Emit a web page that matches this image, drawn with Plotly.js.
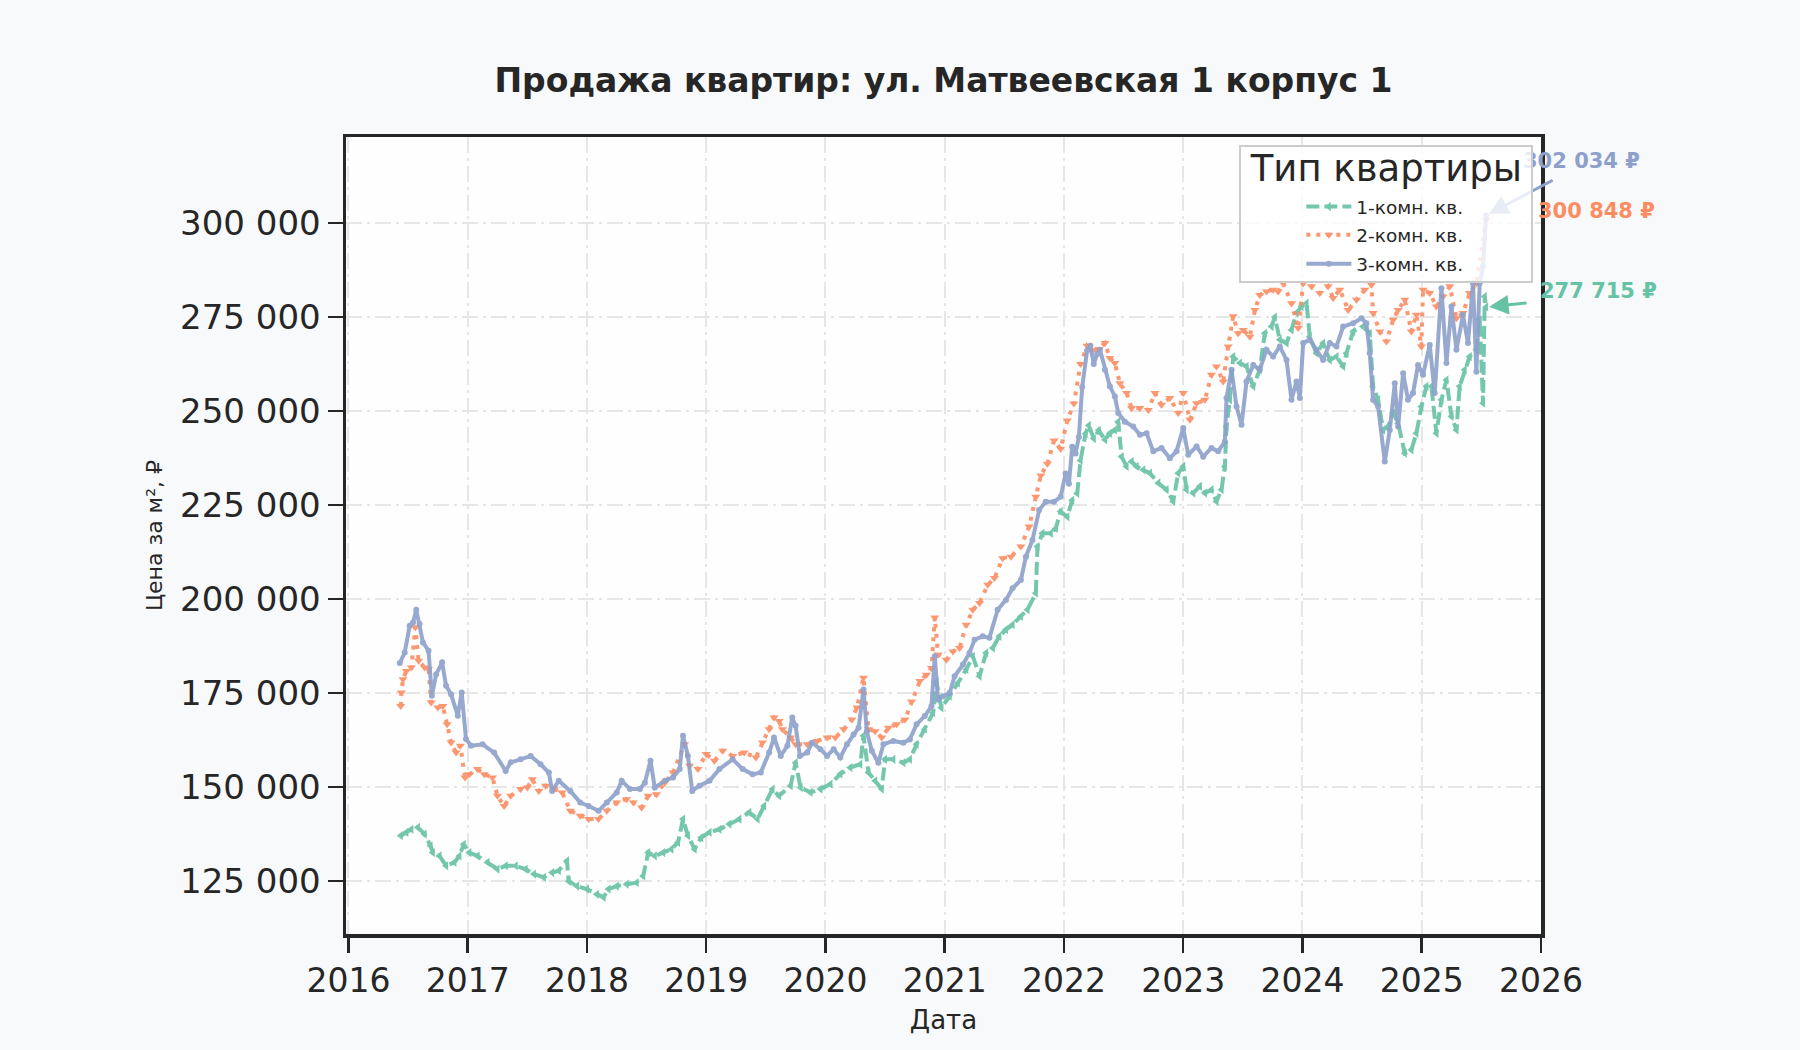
<!DOCTYPE html>
<html>
<head>
<meta charset="utf-8">
<script src="https://cdn.plot.ly/plotly-3.0.1.min.js"></script>
<style>
  body { margin: 0; background: #f8f9fb; }
  #chart { width: 1800px; height: 1050px; }
</style>
</head>
<body>
<div id="chart"></div>
<script>
// 1-комн. кв.
let years1 = [2016.439, 2016.486, 2016.528, 2016.583, 2016.639, 2016.689, 2016.708, 2016.764, 2016.819, 2016.889,
  2016.931, 2016.967, 2017.014, 2017.083, 2017.167, 2017.25, 2017.319, 2017.403, 2017.486, 2017.556,
  2017.639, 2017.708, 2017.764, 2017.833, 2017.847, 2017.917, 2018.0, 2018.083, 2018.139, 2018.181,
  2018.25, 2018.333, 2018.417, 2018.472, 2018.514, 2018.569, 2018.639, 2018.708, 2018.764, 2018.806,
  2018.847, 2018.903, 2018.958, 2019.028, 2019.111, 2019.194, 2019.278, 2019.361, 2019.431, 2019.486,
  2019.556, 2019.611, 2019.708, 2019.75, 2019.792, 2019.875, 2019.958, 2020.042, 2020.125, 2020.208,
  2020.292, 2020.319, 2020.361, 2020.417, 2020.472, 2020.5, 2020.569, 2020.653, 2020.708, 2020.764,
  2020.833, 2020.903, 2020.931, 2020.972, 2021.042, 2021.111, 2021.181, 2021.236, 2021.292, 2021.347,
  2021.403, 2021.458, 2021.514, 2021.569, 2021.639, 2021.694, 2021.764, 2021.778, 2021.819, 2021.889,
  2021.931, 2021.972, 2022.028, 2022.069, 2022.111, 2022.139, 2022.181, 2022.208, 2022.25, 2022.292,
  2022.344, 2022.385, 2022.427, 2022.455, 2022.483, 2022.525, 2022.567, 2022.609, 2022.665, 2022.721,
  2022.791, 2022.86, 2022.916, 2022.958, 2023.0, 2023.028, 2023.084, 2023.14, 2023.182, 2023.237,
  2023.279, 2023.321, 2023.349, 2023.363, 2023.391, 2023.419, 2023.475, 2023.531, 2023.587, 2023.642,
  2023.684, 2023.74, 2023.768, 2023.81, 2023.866, 2023.908, 2023.95, 2023.992, 2024.034, 2024.061,
  2024.117, 2024.173, 2024.229, 2024.285, 2024.341, 2024.369, 2024.425, 2024.508, 2024.564, 2024.592,
  2024.634, 2024.676, 2024.718, 2024.76, 2024.802, 2024.858, 2024.913, 2024.955, 2024.997, 2025.039,
  2025.081, 2025.123, 2025.165, 2025.207, 2025.249, 2025.291, 2025.318, 2025.36, 2025.402, 2025.458,
  2025.486, 2025.514, 2025.528, 2025.54];
let price1 = [137100, 138000, 138800, 139300, 137500, 134400, 132600, 131700, 129100, 130000,
  131700, 134800, 132600, 131700, 130000, 128200, 129100, 129100, 128200, 126900,
  126000, 127300, 127800, 130400, 125000, 123700, 122900, 121500, 120700, 122900,
  123700, 124200, 124600, 126400, 132600, 131700, 132600, 133500, 135300, 141500,
  137100, 133500, 136600, 138000, 138800, 140200, 141500, 143300, 141500, 145000,
  149500, 147700, 150400, 156500, 149900, 148600, 149500, 150800, 153500, 155200,
  156100, 163700, 153900, 151700, 149500, 157400, 157400, 156500, 157400, 161400,
  165400, 169800, 178000, 171100, 174200, 177700, 181300, 184800, 179500, 185700,
  187000, 190100, 191900, 193200, 195400, 197200, 201600, 214000, 217500, 217500,
  218800, 223300, 221900, 226300, 228100, 236900, 244000, 246200, 242700, 244900,
  242400, 244100, 245000, 247200, 237900, 235300, 236600, 235300, 234400, 233500,
  230900, 229100, 226000, 233500, 235300, 229100, 228200, 230000, 228200, 229100,
  226000, 229100, 235300, 245900, 253000, 264500, 262800, 261900, 256600, 261000,
  270700, 272500, 275000, 269000, 268100, 271600, 276100, 277800, 278700, 269800,
  265400, 268100, 263600, 264500, 261900, 265400, 271200, 272500, 270700, 256600,
  253000, 245000, 245900, 249500, 246800, 238800, 239700, 244100, 251200, 256600,
  256600, 244100, 253000, 258300, 248600, 245000, 256600, 261000, 264500, 266300,
  274300, 252100, 280500, 277715];

// 2-комн. кв.
let years2 = [2016.439, 2016.444, 2016.458, 2016.486, 2016.528, 2016.561, 2016.589, 2016.639, 2016.672, 2016.694,
  2016.75, 2016.792, 2016.828, 2016.861, 2016.903, 2016.939, 2016.978, 2017.014, 2017.083, 2017.139,
  2017.208, 2017.25, 2017.306, 2017.361, 2017.444, 2017.5, 2017.542, 2017.597, 2017.653, 2017.722,
  2017.792, 2017.861, 2017.944, 2018.014, 2018.097, 2018.167, 2018.25, 2018.333, 2018.389, 2018.458,
  2018.514, 2018.583, 2018.653, 2018.722, 2018.819, 2018.861, 2018.931, 2019.0, 2019.069, 2019.139,
  2019.222, 2019.319, 2019.417, 2019.472, 2019.528, 2019.569, 2019.611, 2019.639, 2019.708, 2019.75,
  2019.847, 2019.931, 2020.014, 2020.083, 2020.153, 2020.222, 2020.264, 2020.319, 2020.361, 2020.417,
  2020.472, 2020.528, 2020.597, 2020.667, 2020.722, 2020.792, 2020.847, 2020.889, 2020.917, 2020.944,
  2021.014, 2021.069, 2021.125, 2021.181, 2021.236, 2021.292, 2021.361, 2021.417, 2021.486, 2021.556,
  2021.639, 2021.708, 2021.764, 2021.806, 2021.861, 2021.917, 2021.972, 2022.028, 2022.083, 2022.139,
  2022.194, 2022.236, 2022.292, 2022.344, 2022.385, 2022.427, 2022.469, 2022.525, 2022.567, 2022.637,
  2022.707, 2022.763, 2022.818, 2022.888, 2022.958, 2023.0, 2023.056, 2023.112, 2023.182, 2023.237,
  2023.279, 2023.335, 2023.377, 2023.419, 2023.461, 2023.503, 2023.559, 2023.601, 2023.642, 2023.698,
  2023.754, 2023.796, 2023.838, 2023.908, 2023.964, 2024.006, 2024.075, 2024.145, 2024.215, 2024.257,
  2024.313, 2024.383, 2024.453, 2024.522, 2024.578, 2024.592, 2024.648, 2024.704, 2024.76, 2024.802,
  2024.858, 2024.913, 2024.955, 2024.997, 2025.011, 2025.067, 2025.123, 2025.179, 2025.235, 2025.291,
  2025.346, 2025.402, 2025.458, 2025.54];
let price2 = [171600, 175200, 178700, 180900, 181800, 192500, 183600, 181800, 181400, 172500,
  171200, 171600, 166700, 161900, 159200, 161000, 152600, 153400, 154800, 153400,
  152600, 147700, 145000, 147700, 149500, 149900, 152100, 149000, 150400, 149500,
  148600, 143700, 142400, 141500, 141500, 143700, 145900, 146800, 145900, 144600,
  147700, 148100, 151200, 153900, 161400, 155700, 154800, 158800, 157000, 159700,
  158300, 159200, 157900, 161900, 165400, 168500, 167600, 165400, 163200, 161400,
  161400, 162300, 163200, 163200, 165400, 168000, 171200, 179100, 165400, 164900,
  163200, 165800, 166700, 168000, 172800, 178200, 179900, 181700, 195100, 185300,
  183900, 186100, 187000, 193200, 197200, 199000, 203800, 205600, 210900, 211300,
  214000, 219300, 227200, 232900, 236000, 242200, 240000, 247500, 252000, 262500,
  267400, 266100, 266500, 268100, 264100, 262800, 257400, 254800, 250800, 250800,
  250300, 254800, 251700, 253500, 249500, 254800, 247700, 252100, 253000, 259700,
  261900, 257900, 267200, 275200, 270700, 271600, 269800, 276900, 280900, 281800,
  282300, 281800, 284000, 278700, 272100, 284000, 283200, 281400, 283200, 280100,
  282300, 276900, 279600, 282300, 283600, 276100, 271200, 268500, 274300, 276900,
  279600, 271200, 275600, 267200, 282300, 281400, 277800, 280500, 283200, 274700,
  276100, 281400, 284000, 300848];

// 3-комн. кв.
let years3 = [2016.431, 2016.472, 2016.514, 2016.542, 2016.569, 2016.597, 2016.625, 2016.672, 2016.7, 2016.736,
  2016.786, 2016.819, 2016.861, 2016.917, 2016.95, 2016.986, 2017.028, 2017.125, 2017.222, 2017.319,
  2017.361, 2017.444, 2017.528, 2017.611, 2017.681, 2017.708, 2017.764, 2017.861, 2017.944, 2018.014,
  2018.097, 2018.167, 2018.25, 2018.292, 2018.361, 2018.444, 2018.486, 2018.533, 2018.569, 2018.653,
  2018.722, 2018.778, 2018.806, 2018.847, 2018.883, 2018.944, 2019.028, 2019.111, 2019.222, 2019.306,
  2019.389, 2019.458, 2019.528, 2019.569, 2019.625, 2019.681, 2019.722, 2019.75, 2019.786, 2019.847,
  2019.889, 2019.958, 2020.014, 2020.069, 2020.125, 2020.181, 2020.236, 2020.278, 2020.319, 2020.347,
  2020.389, 2020.444, 2020.486, 2020.569, 2020.653, 2020.708, 2020.764, 2020.833, 2020.889, 2020.917,
  2020.944, 2020.986, 2021.042, 2021.083, 2021.153, 2021.208, 2021.25, 2021.319, 2021.375, 2021.444,
  2021.514, 2021.569, 2021.639, 2021.681, 2021.736, 2021.792, 2021.847, 2021.917, 2021.972, 2022.014,
  2022.042, 2022.069, 2022.097, 2022.125, 2022.153, 2022.194, 2022.222, 2022.25, 2022.278, 2022.302,
  2022.344, 2022.385, 2022.427, 2022.455, 2022.511, 2022.581, 2022.637, 2022.693, 2022.749, 2022.818,
  2022.888, 2022.944, 2023.0, 2023.042, 2023.112, 2023.168, 2023.237, 2023.293, 2023.349, 2023.363,
  2023.405, 2023.447, 2023.489, 2023.531, 2023.587, 2023.642, 2023.698, 2023.754, 2023.81, 2023.866,
  2023.908, 2023.95, 2023.978, 2024.006, 2024.061, 2024.117, 2024.173, 2024.229, 2024.285, 2024.341,
  2024.425, 2024.494, 2024.536, 2024.564, 2024.592, 2024.634, 2024.69, 2024.732, 2024.774, 2024.802,
  2024.844, 2024.885, 2024.927, 2024.969, 2025.011, 2025.067, 2025.109, 2025.165, 2025.207, 2025.249,
  2025.291, 2025.346, 2025.388, 2025.43, 2025.458, 2025.486, 2025.514, 2025.54];
let price3 = [183000, 185800, 192900, 193800, 197200, 193400, 188500, 186300, 174300, 180000,
  183200, 177000, 174700, 169000, 175200, 162800, 161000, 161400, 159200, 154300,
  156600, 157400, 158300, 156100, 153900, 149000, 151700, 149000, 145900, 145000,
  143700, 145900, 148600, 151700, 149500, 149500, 151200, 157000, 149900, 151700,
  152600, 154800, 163700, 158300, 149000, 150400, 151700, 154800, 157400, 154800,
  153400, 153900, 159200, 163200, 158300, 161000, 168500, 166300, 158300, 159200,
  161800, 160100, 158300, 160100, 157900, 161400, 164000, 165800, 176000, 164800,
  159700, 156500, 161400, 162300, 161800, 162700, 166700, 168900, 171500, 184800,
  173300, 174200, 175100, 179500, 182600, 185700, 189200, 190100, 189700, 197200,
  199800, 202900, 205100, 211300, 215700, 223700, 225900, 225900, 227200, 233400,
  230700, 240500, 238700, 243100, 256400, 266100, 267400, 262500, 265200, 266300,
  261000, 256600, 253900, 249500, 247200, 245900, 243700, 244100, 239300, 240200,
  237500, 239300, 245500, 238400, 240600, 237900, 240200, 239300, 241900, 253500,
  261000, 251200, 246400, 257900, 262300, 261000, 266300, 264500, 267200, 263600,
  253000, 257900, 253500, 268100, 269000, 266300, 263600, 268100, 267200, 272500,
  273400, 274700, 273400, 265400, 253000, 251200, 236600, 245000, 257400, 245900,
  260100, 253000, 254800, 262300, 259700, 267600, 254800, 282700, 262800, 277800,
  266300, 275600, 268100, 284000, 260500, 284000, 288500, 302034];

let seriesNames = ['1-комн. кв.', '2-комн. кв.', '3-комн. кв.'];
let seriesColors = ['#66c2a5', '#fc8d62', '#8da0cb'];
let yTicks = [125000, 150000, 175000, 200000, 225000, 250000, 275000, 300000];
let xTicks = [2016, 2017, 2018, 2019, 2020, 2021, 2022, 2023, 2024, 2025, 2026];

// "277715" -> "277 715 ₽"
function rub(v)
{
  return String(v).replace(/\B(?=(\d{3})+(?!\d))/g, ' ') + ' ₽';
}

let font = 'DejaVu Sans, sans-serif';

let green =
{
  name: seriesNames[0], x: years1, y: price1, mode: 'lines+markers', opacity: 0.9,
  line: {color: seriesColors[0], width: 4, dash: '13px,5px'},
  marker: {symbol: 'triangle-left', size: 8, color: seriesColors[0]}
};
let orange =
{
  name: seriesNames[1], x: years2, y: price2, mode: 'lines+markers', opacity: 0.9,
  line: {color: seriesColors[1], width: 4, dash: '4px,6px'},
  marker: {symbol: 'triangle-down', size: 8, color: seriesColors[1]}
};
let blue =
{
  name: seriesNames[2], x: years3, y: price3, mode: 'lines+markers', opacity: 0.9,
  line: {color: seriesColors[2], width: 4},
  marker: {symbol: 'circle', size: 6, color: seriesColors[2]}
};

// подписи последних значений
let last = [[years1, price1], [years2, price2], [years3, price3]];
let textShift = [[52, 16], [50, 9], [35, 54]];
let annotations = [];
for(let i = 0; i < 3; i++)
{
  let xs = last[i][0], ys = last[i][1];
  let lx = xs[xs.length - 1], ly = ys[ys.length - 1];
  annotations.push({
    x: lx, y: ly, xref: 'x', yref: 'y', text: '<b>' + rub(ly) + '</b>',
    showarrow: false, xanchor: 'left', yanchor: 'middle',
    xshift: textShift[i][0], yshift: textShift[i][1],
    font: {family: font, size: 21, color: seriesColors[i]}
  });
}
// стрелки (у 2-комн. стрелка спрятана под легендой)
annotations.push({x: years1[years1.length - 1], y: price1[price1.length - 1], xref: 'x', yref: 'y',
  text: '', showarrow: true, ax: 42, ay: -4, arrowhead: 2, arrowsize: 1.3, arrowwidth: 3,
  arrowcolor: seriesColors[0], standoff: 3});
annotations.push({x: years3[years3.length - 1], y: price3[price3.length - 1], xref: 'x', yref: 'y',
  text: '', showarrow: true, ax: 68, ay: -36, arrowhead: 2, arrowsize: 1.3, arrowwidth: 3,
  arrowcolor: seriesColors[2], standoff: 3});

let axisCommon =
{
  showline: true, linecolor: '#262626', linewidth: 3.5, mirror: true,
  ticks: 'outside', ticklen: 15, tickwidth: 2.5, tickcolor: '#262626',
  tickfont: {family: font, size: 33, color: '#262626'},
  showgrid: true, gridcolor: '#e6e6e6', gridwidth: 2, griddash: '16px,5px,3px,5px',
  zeroline: false
};

let layout =
{
  width: 1800, height: 1050,
  paper_bgcolor: '#f8f9fb', plot_bgcolor: '#fefefe',
  separators: ', ',
  margin: {l: 346, r: 259, t: 137, b: 116},
  title: {text: '<b>Продажа квартир: ул. Матвеевская 1 корпус 1</b>',
    font: {family: font, size: 33, color: '#262626'},
    x: 0.5, xref: 'paper', y: 1 - 80 / 1050, yref: 'container', yanchor: 'middle'},
  xaxis: Object.assign({}, axisCommon, {
    range: [2015.98, 2026.0], tickvals: xTicks, ticktext: xTicks.map(String),
    title: {text: 'Дата', font: {family: font, size: 26, color: '#262626'}, standoff: 12}
  }),
  yaxis: Object.assign({}, axisCommon, {
    range: [110950, 322900], tickvals: yTicks, tickformat: ',.0f',
    tickfont: {family: font, size: 34, color: '#262626'},
    title: {text: 'Цена за м², ₽', font: {family: font, size: 22, color: '#262626'}, standoff: 12}
  }),
  legend: {
    x: 0.9936, y: 0.99, xanchor: 'right', yanchor: 'top',
    bgcolor: 'rgba(255,255,255,0.8)', bordercolor: '#cccccc', borderwidth: 2,
    font: {family: font, size: 18.5, color: '#262626'},
    indentation: 60, itemwidth: 45, tracegroupgap: 0,
    title: {text: '\u2009Тип квартиры\u2009', side: 'top center', font: {family: font, size: 37, color: '#262626'}}
  },
  annotations: annotations,
  showlegend: true
};

Plotly.newPlot('chart', [green, orange, blue], layout, {displayModeBar: false, staticPlot: true})
  .then(function()
  {
    let leg = document.querySelector('#chart .legend');
    if(!leg) return;
    // легенда поверх подписей, как в оригинале
    leg.parentNode.appendChild(leg);

    // заголовок легенды выше, строки плотнее к нему
    let title = leg.querySelector('.legendtitletext');
    if(title) title.setAttribute('y', parseFloat(title.getAttribute('y') || 0) - 14);
    let shifts = [-7, -6, -4];
    leg.querySelectorAll('.traces').forEach(function(tr, i)
    {
      let m = /translate\(([-\d.]+),\s*([-\d.]+)\)/.exec(tr.getAttribute('transform') || '');
      if(m) tr.setAttribute('transform', 'translate(' + m[1] + ',' + (parseFloat(m[2]) + shifts[i]) + ')');
    });
    let bg = leg.querySelector('rect.bg');
    if(bg) bg.setAttribute('height', parseFloat(bg.getAttribute('height')) - 6);
  });
</script>
</body>
</html>
